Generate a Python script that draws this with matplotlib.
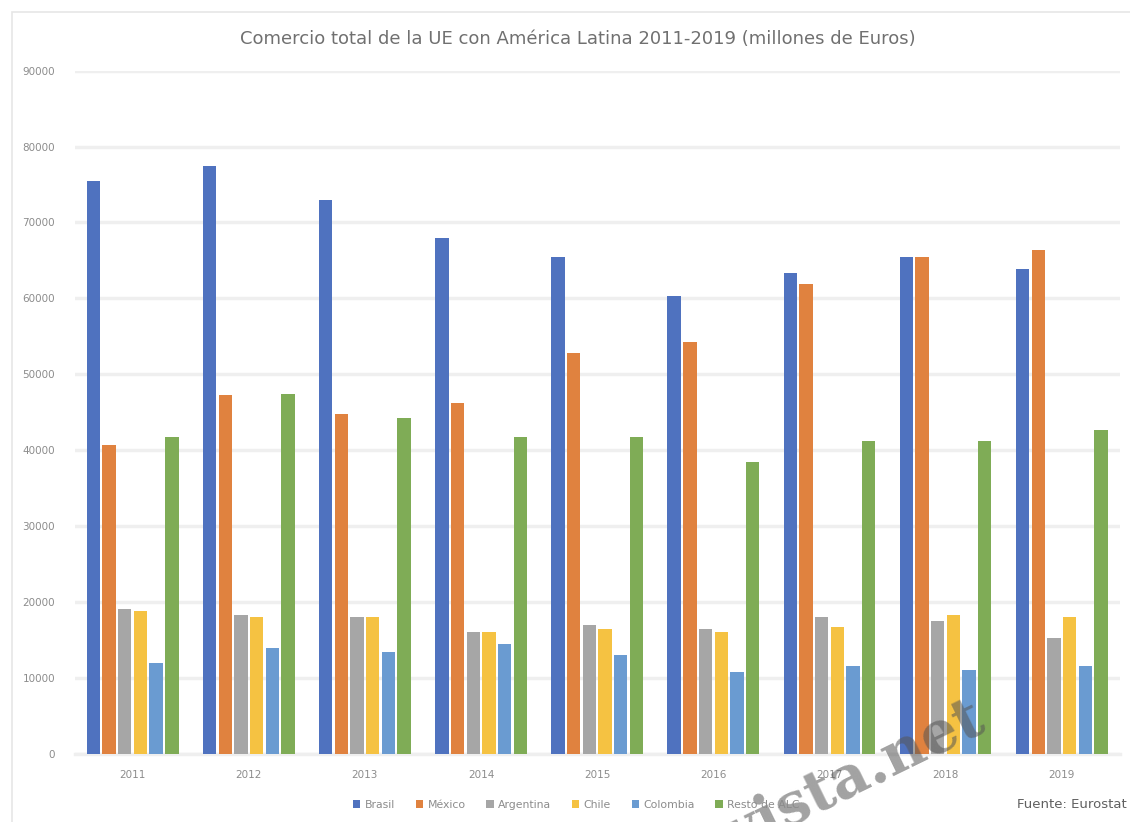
import numpy as np
import matplotlib
matplotlib.use("Agg")
import matplotlib.pyplot as plt
from matplotlib.patches import Rectangle

years = ["2011", "2012", "2013", "2014", "2015", "2016", "2017", "2018", "2019"]
brasil = [75500, 77500, 73000, 68000, 65500, 60300, 63400, 65500, 63900]
mexico = [40700, 47300, 44800, 46200, 52800, 54300, 61900, 65500, 66400]
argentina = [19100, 18300, 18000, 16100, 17000, 16500, 18000, 17500, 15300]
chile = [18800, 18000, 18000, 16100, 16500, 16100, 16700, 18300, 18000]
colombia = [12000, 14000, 13400, 14500, 13000, 10800, 11500, 11000, 11500]
resto = [41800, 47400, 44300, 41800, 41800, 38400, 41200, 41200, 42700]

series = ["Brasil", "México", "Argentina", "Chile", "Colombia", "Resto de ALC"]
values = [brasil, mexico, argentina, chile, colombia, resto]
colors = ["#4f72bf", "#e0823f", "#a6a6a6", "#f5c242", "#6a9bd1", "#7fac56"]

fig = plt.figure(figsize=(11.3, 8.22), dpi=100)
ax = fig.add_axes([0.066, 0.083, 0.925, 0.831])

x = np.arange(len(years))
slot = 0.135
width = 0.115
for i, (name, vals, c) in enumerate(zip(series, values, colors)):
    ax.bar(x + (i - 2.5) * slot, vals, width, color=c, label=name, zorder=3)

ax.set_xlim(-0.5, len(years) - 0.5)
ax.set_ylim(0, 90000)
ax.set_yticks(range(0, 90001, 10000))
ax.set_yticklabels([str(v) for v in range(0, 90001, 10000)])
ax.set_xticks(x)
ax.set_xticklabels(years)
ax.yaxis.grid(True, color="#efefef", linewidth=2.5, zorder=0)
ax.tick_params(axis="both", length=0, labelsize=7.5, labelcolor="#8c8c8c")
ax.tick_params(axis="y", pad=14)
ax.tick_params(axis="x", pad=12)
for s in ["top", "right", "left"]:
    ax.spines[s].set_visible(False)
ax.spines["bottom"].set_color("#efefef")
ax.spines["bottom"].set_linewidth(2.5)

fig.text(0.511, 0.953, "Comercio total de la UE con América Latina 2011-2019 (millones de Euros)",
         ha="center", va="center", fontsize=13, color="#707070")

fig.legend(loc="center", bbox_to_anchor=(0.51, 0.021), ncol=6, frameon=False,
           fontsize=7.8, labelcolor="#8c8c8c", handlelength=0.7, handleheight=0.7,
           handletextpad=0.4, columnspacing=1.9)

fig.text(0.997, 0.021, "Fuente: Eurostat", ha="right", va="center",
         fontsize=9.5, color="#606060")

# chart frame
fig.patches.append(Rectangle((0.011, -0.01), 1.0, 0.995, transform=fig.transFigure,
                             fill=False, edgecolor="#e6e6e6", linewidth=1.2))

# watermark
fig.text(0.874, 0.112, "revista.net", ha="right", va="baseline", rotation=26,
         rotation_mode="anchor", fontsize=42, family="DejaVu Serif", weight="bold",
         color="#555555", alpha=0.55)

fig.savefig("out.png", dpi=100)
